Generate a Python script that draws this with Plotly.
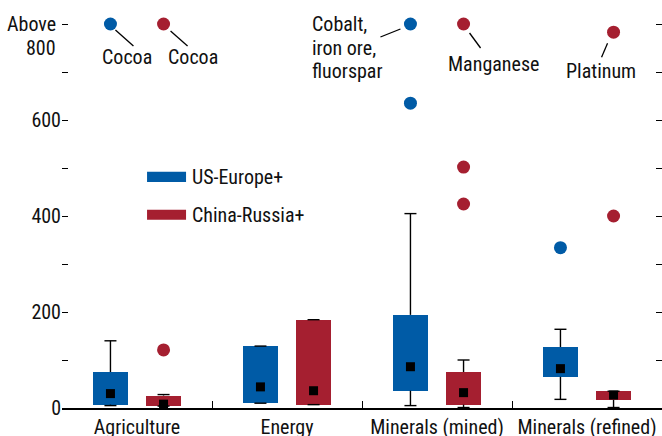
import plotly.graph_objects as go

# Categories and series statistics (box = interquartile range, whiskers, mean)
categories = ["Agriculture", "Energy", "Minerals (mined)", "Minerals (refined)"]
series_names = ["US-Europe+", "China-Russia+"]

us_lower = [5, 10, 5, 18]
us_q1 = [7, 10, 36, 65]
us_q3 = [75, 129, 194, 127]
us_upper = [140, 129, 405, 164]
us_mean = [30, 44, 86, 82]
us_outlier_cat = [0, 2, 2, 3]
us_outlier_val = [800, 635, 800, 334]

cr_lower = [4, 7, 1, 1]
cr_q1 = [5, 7, 7, 17]
cr_q3 = [26, 184, 75, 35]
cr_upper = [28, 184, 100, 35]
cr_mean = [8, 36, 32, 27]
cr_outlier_cat = [0, 0, 2, 2, 2, 3, 3]
cr_outlier_val = [121, 800, 425, 502, 800, 400, 783]

y_tick_vals = [0, 100, 200, 300, 400, 500, 600, 700, 800]
y_tick_text = ["0", "", "200", "", "400", "", "600", "", ""]

BLUE = "#005BA6"
RED = "#A51F30"
FONT = "Roboto Condensed, Liberation Sans Narrow, DejaVu Sans Condensed, sans-serif"
FS = 20
OFFSET = 0.177
BOX_W = 0.235
CAP = 0.04

fig = go.Figure()


def add_group(lower, q1, q3, upper, mean, out_cat, out_val, color, shift, name):
    xs = [i + shift for i in range(len(categories))]
    fig.add_trace(go.Bar(
        x=xs, y=[b - a for a, b in zip(q1, q3)], base=q1, width=BOX_W,
        marker=dict(color=color, line=dict(width=0)), name=name, showlegend=False,
    ))
    wx, wy = [], []
    for x, lo, a, b, hi in zip(xs, lower, q1, q3, upper):
        wx += [x, x, None, x, x, None, x - CAP, x + CAP, None, x - CAP, x + CAP, None]
        wy += [lo, a, None, b, hi, None, lo, lo, None, hi, hi, None]
    fig.add_trace(go.Scatter(x=wx, y=wy, mode="lines",
                             line=dict(color="black", width=1.4),
                             showlegend=False, hoverinfo="skip"))
    fig.add_trace(go.Scatter(x=xs, y=mean, mode="markers",
                             marker=dict(symbol="square", size=9, color="black"),
                             showlegend=False))
    fig.add_trace(go.Scatter(x=[c + shift for c in out_cat], y=out_val, mode="markers",
                             marker=dict(symbol="circle", size=13, color=color),
                             cliponaxis=False, showlegend=False))


add_group(us_lower, us_q1, us_q3, us_upper, us_mean, us_outlier_cat, us_outlier_val,
          BLUE, -OFFSET, series_names[0])
add_group(cr_lower, cr_q1, cr_q3, cr_upper, cr_mean, cr_outlier_cat, cr_outlier_val,
          RED, OFFSET, series_names[1])

# right-hand tick marks
fig.add_trace(go.Scatter(x=[None], y=[None], yaxis="y2", showlegend=False))

annotations = []
shapes = []


def label(px, py, text, dx, dy, xanchor="center", align="center"):
    annotations.append(dict(x=px, y=py, xref="x", yref="y", text=text, showarrow=False,
                            xanchor=xanchor, yanchor="middle", align=align,
                            xshift=dx, yshift=dy, font=dict(size=FS, family=FONT, color="#111")))


def leader(px, py, x0, y0, x1, y1):
    shapes.append(dict(type="line", xref="x", yref="y",
                       xsizemode="pixel", ysizemode="pixel",
                       xanchor=px, yanchor=py, x0=x0, x1=x1, y0=y0, y1=y1,
                       line=dict(color="black", width=1.3)))


# point labels
label(-OFFSET, 800, "Cocoa", 17, -33)
leader(-OFFSET, 800, 5, -6, 23, -22)
label(OFFSET, 800, "Cocoa", 29, -33)
leader(OFFSET, 800, 7, -7, 24, -22)
for i, line_text in enumerate(["Cobalt,", "iron ore,", "fluorspar"]):
    label(2 - OFFSET, 800, line_text, -100, -23.5 * i, xanchor="left")
leader(2 - OFFSET, 800, -30, -13, -10, -5)
label(2 + OFFSET, 800, "Manganese", 30, -40)
leader(2 + OFFSET, 800, 6, -9, 17, -24)
label(3 + OFFSET, 783, "Platinum", -13, -39)
leader(3 + OFFSET, 783, -6, -11, -12, -25)

# "Above 800" tick label
annotations.append(dict(xref="paper", yref="y", x=0, y=800, text="Above", showarrow=False,
                        xanchor="right", yanchor="middle", xshift=-4,
                        font=dict(size=FS, family=FONT, color="#111")))
annotations.append(dict(xref="paper", yref="y", x=0, y=800, text="800", showarrow=False,
                        xanchor="right", yanchor="middle", xshift=-4, yshift=-24,
                        font=dict(size=FS, family=FONT, color="#111")))

# legend
for name, color, y0, y1 in [(series_names[0], BLUE, 471, 492), (series_names[1], RED, 392, 413)]:
    shapes.append(dict(type="rect", xref="x", yref="y", x0=0.067, x1=0.327, y0=y0, y1=y1,
                       fillcolor=color, line=dict(width=0)))
    annotations.append(dict(x=0.353, y=(y0 + y1) / 2, xref="x", yref="y", text=name,
                            showarrow=False, xanchor="left", yanchor="middle",
                            font=dict(size=FS, family=FONT, color="#111")))

fig.update_layout(
    width=662, height=436,
    margin=dict(l=62, r=0, t=0, b=28),
    plot_bgcolor="white", paper_bgcolor="white",
    barmode="overlay", bargap=0,
    font=dict(family=FONT, size=FS, color="#111"),
    showlegend=False,
    xaxis=dict(range=[-0.5, 3.5], tickvals=[0, 1, 2, 3], ticktext=categories,
               ticks="", showline=True, linecolor="black", linewidth=1.5,
               showgrid=False, zeroline=False, ticklabelstandoff=0,
               ticklabeloverflow="allow", automargin=False,
               minor=dict(tickvals=[0.5, 1.5, 2.5], ticks="inside", ticklen=7,
                          tickcolor="black", tickwidth=1.3),
               tickfont=dict(size=FS, family=FONT, color="#111")),
    yaxis=dict(range=[0, 850], tickvals=y_tick_vals, ticktext=y_tick_text,
               ticks="inside", ticklen=6, tickcolor="black", tickwidth=1.2,
               showline=False, showgrid=False, zeroline=False, automargin=False,
               tickfont=dict(size=FS, family=FONT, color="#111")),
    yaxis2=dict(range=[0, 850], overlaying="y", side="right", tickvals=y_tick_vals,
                ticks="inside", ticklen=6, tickcolor="black", tickwidth=1.2,
                showticklabels=False, showline=False, showgrid=False, zeroline=False,
                automargin=False),
    annotations=annotations,
    shapes=shapes,
)

fig.write_html("out.html")
